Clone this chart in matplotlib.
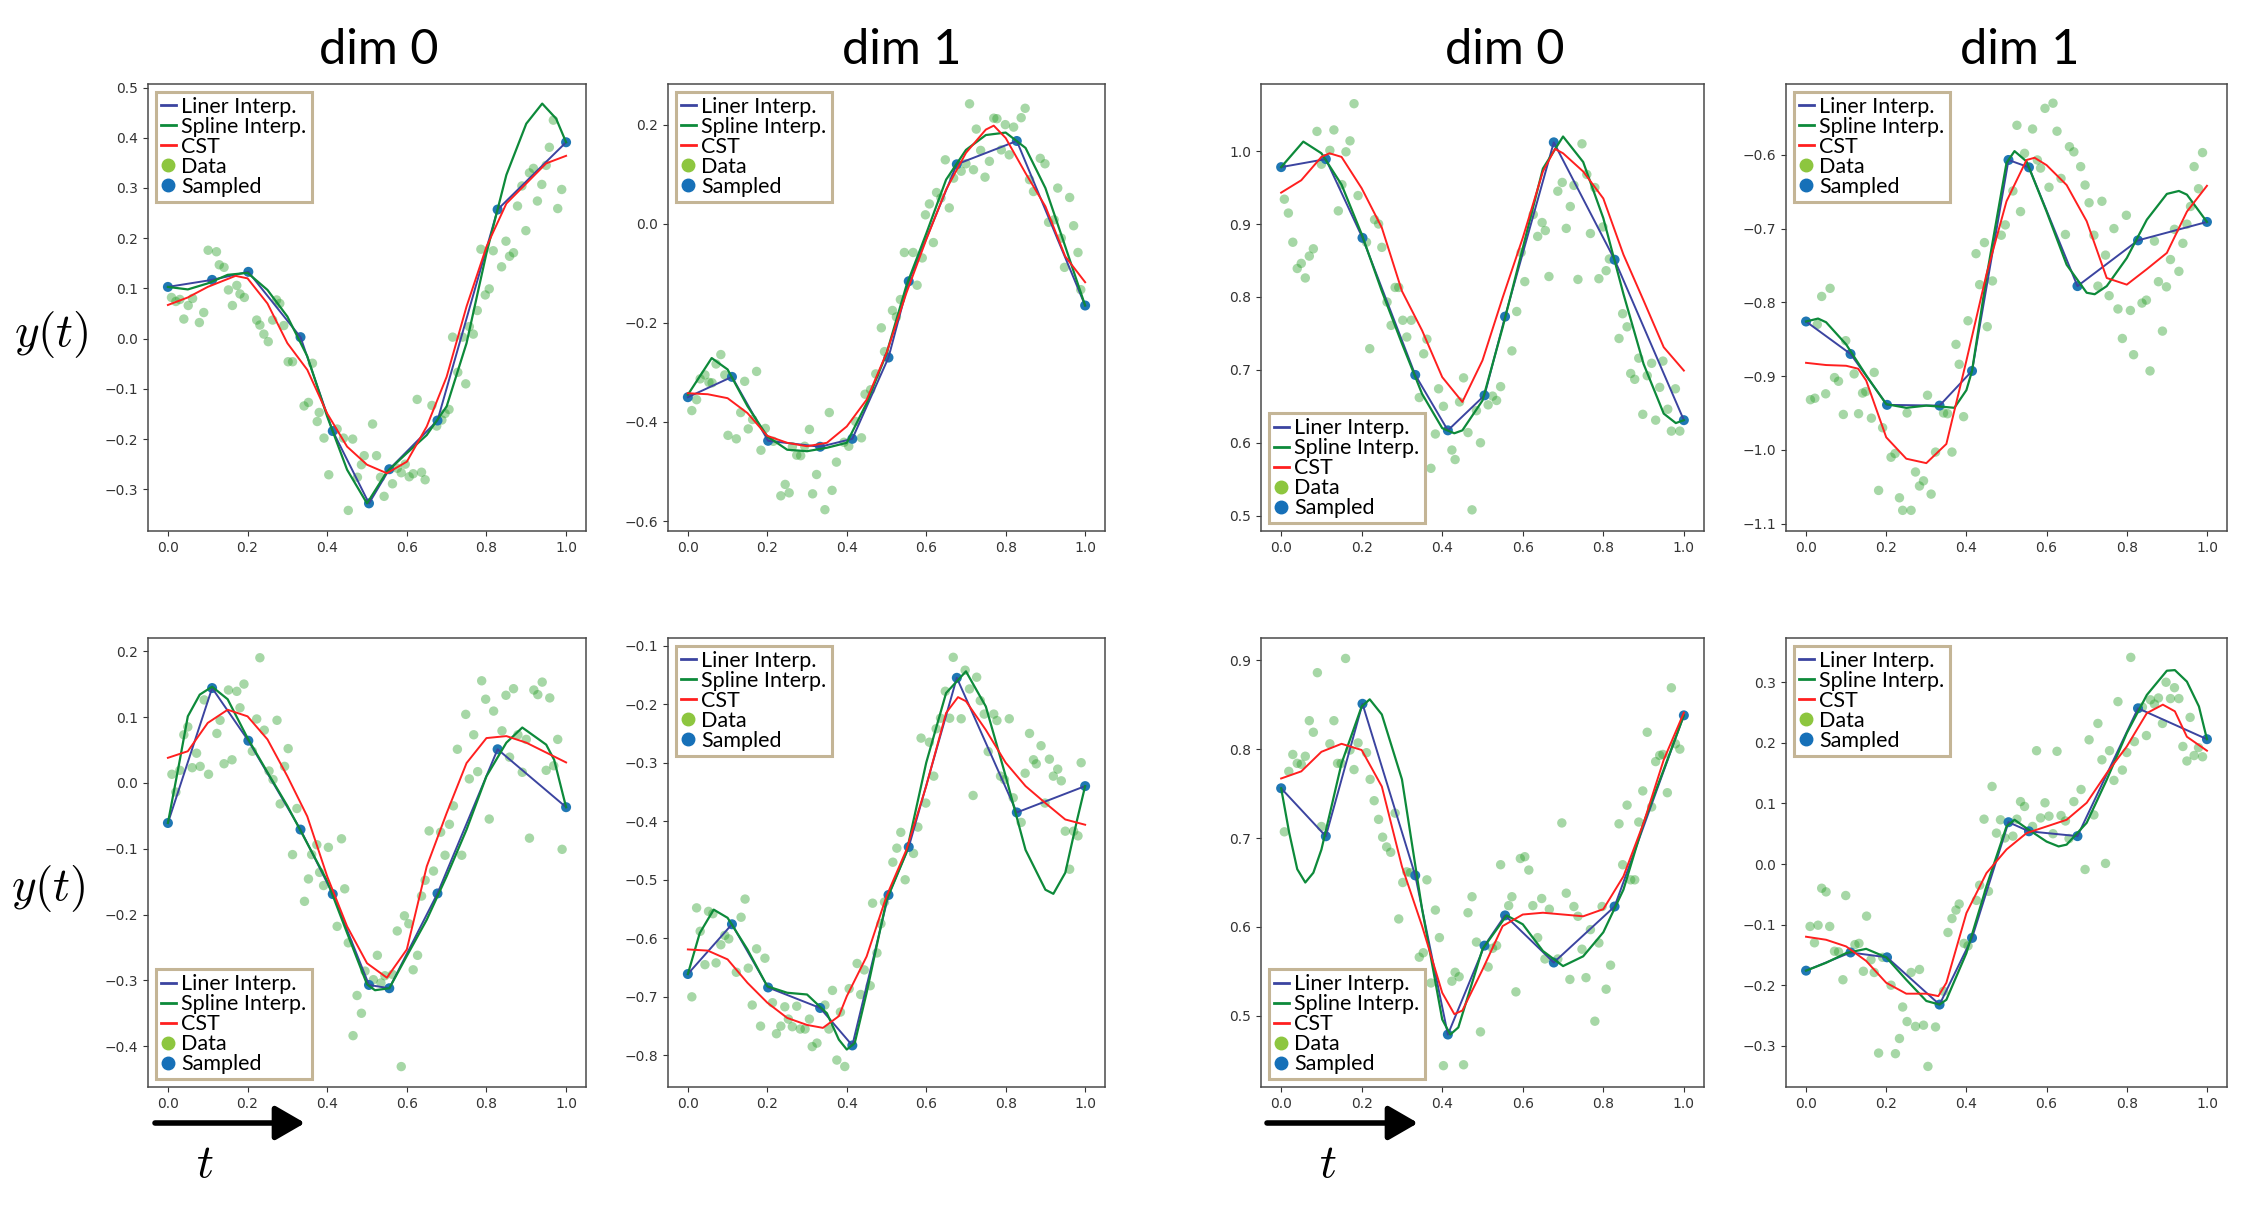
### Libraries ###
import matplotlib
matplotlib.use('Agg')
import matplotlib.pyplot as plt
from matplotlib.lines import Line2D
from matplotlib.ticker import MultipleLocator

plt.rcParams['mathtext.fontset'] = 'cm'

### Shared sample times ###
sample_t = [0.0, 0.111, 0.202, 0.333, 0.414, 0.505, 0.556, 0.677, 0.828, 1.0]

### Trajectory A, dim 0 ###
a0_samp = [0.103, 0.117, 0.133, 0.003, -0.184, -0.328, -0.260, -0.163, 0.257, 0.391]
a0_spl_t = [0, 0.05, 0.1, 0.15, 0.2, 0.25, 0.3, 0.35, 0.4, 0.45, 0.5, 0.55, 0.6, 0.65, 0.7,
            0.75, 0.8, 0.85, 0.9, 0.94, 0.975, 1.0]
a0_spl_y = [0.103, 0.098, 0.110, 0.127, 0.131, 0.097, 0.044, -0.035, -0.155, -0.261, -0.328,
            -0.265, -0.228, -0.192, -0.135, -0.009, 0.170, 0.326, 0.428, 0.468, 0.438, 0.391]
a0_cst_t = [0, 0.05, 0.1, 0.17, 0.2, 0.25, 0.3, 0.35, 0.4, 0.45, 0.5, 0.55, 0.6, 0.65, 0.7,
            0.75, 0.8, 0.85, 0.9, 0.95, 1.0]
a0_cst_y = [0.067, 0.082, 0.103, 0.125, 0.120, 0.070, -0.009, -0.062, -0.149, -0.215, -0.251,
            -0.268, -0.245, -0.175, -0.076, 0.064, 0.183, 0.269, 0.309, 0.349, 0.364]
a0_dat_t = [0.009, 0.020, 0.030, 0.040, 0.051, 0.062, 0.079, 0.090, 0.101, 0.122, 0.129, 0.141,
            0.152, 0.162, 0.173, 0.181, 0.192, 0.223, 0.231, 0.241, 0.252, 0.263, 0.273, 0.281,
            0.291, 0.302, 0.313, 0.342, 0.353, 0.363, 0.375, 0.380, 0.392, 0.404, 0.425, 0.441,
            0.453, 0.464, 0.476, 0.486, 0.493, 0.514, 0.524, 0.534, 0.543, 0.564, 0.576, 0.586,
            0.596, 0.606, 0.616, 0.626, 0.637, 0.646, 0.663, 0.675, 0.688, 0.696, 0.706, 0.715,
            0.728, 0.740, 0.748, 0.757, 0.767, 0.777, 0.786, 0.797, 0.807, 0.817, 0.838, 0.849,
            0.858, 0.868, 0.878, 0.889, 0.899, 0.908, 0.918, 0.928, 0.939, 0.950, 0.958, 0.968,
            0.979, 0.989]
a0_dat_y = [0.082, 0.074, 0.078, 0.039, 0.066, 0.080, 0.032, 0.052, 0.176, 0.173, 0.147, 0.142,
            0.097, 0.066, 0.106, 0.089, 0.082, 0.037, 0.027, 0.009, -0.006, 0.037, 0.077, 0.070,
            0.026, -0.046, -0.046, -0.134, -0.127, -0.049, -0.165, -0.147, -0.198, -0.271, -0.180,
            -0.198, -0.342, -0.200, -0.276, -0.251, -0.233, -0.170, -0.233, -0.276, -0.314, -0.289,
            -0.258, -0.267, -0.250, -0.275, -0.269, -0.121, -0.266, -0.281, -0.133, -0.174, -0.162,
            -0.149, -0.141, 0.003, -0.067, 0.003, -0.090, 0.024, 0.009, 0.056, 0.178, 0.087, 0.099,
            0.175, 0.143, 0.194, 0.164, 0.171, 0.264, 0.304, 0.215, 0.330, 0.339, 0.274, 0.307,
            0.345, 0.381, 0.435, 0.259, 0.297]

### Trajectory A, dim 1 ###
a1_samp = [-0.350, -0.309, -0.438, -0.450, -0.434, -0.270, -0.116, 0.120, 0.167, -0.165]
a1_spl_t = [0, 0.06, 0.1, 0.15, 0.2, 0.25, 0.3, 0.35, 0.4, 0.45, 0.5, 0.55, 0.6, 0.65, 0.7,
            0.75, 0.8, 0.85, 0.9, 0.95, 1.0]
a1_spl_y = [-0.345, -0.271, -0.294, -0.368, -0.429, -0.456, -0.459, -0.452, -0.442, -0.362,
            -0.262, -0.125, -0.020, 0.089, 0.149, 0.179, 0.184, 0.153, 0.072, -0.046, -0.165]
a1_cst_t = [0, 0.05, 0.1, 0.15, 0.2, 0.25, 0.3, 0.35, 0.4, 0.45, 0.5, 0.55, 0.6, 0.65, 0.7,
            0.75, 0.77, 0.8, 0.85, 0.9, 0.95, 1.0]
a1_cst_y = [-0.342, -0.344, -0.352, -0.382, -0.428, -0.442, -0.449, -0.442, -0.409, -0.355,
            -0.261, -0.140, -0.032, 0.069, 0.143, 0.190, 0.198, 0.173, 0.102, 0.035, -0.066, -0.118]
a1_dat_t = [0.010, 0.022, 0.031, 0.043, 0.053, 0.061, 0.071, 0.083, 0.093, 0.101, 0.122, 0.133,
            0.143, 0.152, 0.163, 0.173, 0.184, 0.195, 0.215, 0.234, 0.245, 0.255, 0.263, 0.274,
            0.284, 0.294, 0.306, 0.314, 0.324, 0.345, 0.356, 0.363, 0.374, 0.393, 0.405, 0.422,
            0.437, 0.446, 0.460, 0.473, 0.487, 0.495, 0.515, 0.525, 0.535, 0.545, 0.567, 0.577,
            0.590, 0.598, 0.608, 0.618, 0.626, 0.637, 0.648, 0.658, 0.669, 0.688, 0.700, 0.709,
            0.719, 0.726, 0.737, 0.748, 0.759, 0.770, 0.778, 0.789, 0.799, 0.809, 0.820, 0.839,
            0.849, 0.860, 0.870, 0.887, 0.899, 0.908, 0.922, 0.931, 0.940, 0.948, 0.961, 0.971,
            0.982, 0.989]
a1_dat_y = [-0.377, -0.355, -0.313, -0.305, -0.320, -0.321, -0.283, -0.264, -0.305, -0.427,
            -0.434, -0.381, -0.318, -0.414, -0.395, -0.298, -0.457, -0.413, -0.439, -0.549,
            -0.526, -0.543, -0.450, -0.467, -0.468, -0.449, -0.415, -0.545, -0.506, -0.577,
            -0.381, -0.538, -0.481, -0.441, -0.449, -0.399, -0.432, -0.344, -0.335, -0.303,
            -0.210, -0.258, -0.175, -0.188, -0.153, -0.058, -0.058, -0.124, -0.069, 0.018,
            0.040, -0.038, 0.063, 0.052, 0.129, 0.032, 0.092, 0.106, 0.121, 0.242, 0.109, 0.191,
            0.148, 0.094, 0.126, 0.213, 0.212, 0.149, 0.200, 0.139, 0.195, 0.214, 0.233, 0.089,
            0.065, 0.132, 0.121, 0.003, 0.008, 0.072, -0.029, -0.088, 0.053, -0.004, -0.058, -0.133]

### Trajectory B, dim 0 ###
b0_samp = [0.978, 0.989, 0.881, 0.693, 0.617, 0.665, 0.773, 1.012, 0.851, 0.631]
b0_spl_t = [0, 0.055, 0.1, 0.15, 0.2, 0.25, 0.3, 0.35, 0.4, 0.43, 0.45, 0.5, 0.55, 0.6, 0.65,
            0.7, 0.75, 0.8, 0.85, 0.9, 0.95, 0.98, 1.0]
b0_spl_y = [0.978, 1.013, 0.997, 0.954, 0.886, 0.808, 0.736, 0.667, 0.620, 0.613, 0.617, 0.658,
            0.758, 0.867, 0.976, 1.020, 0.985, 0.908, 0.804, 0.708, 0.640, 0.627, 0.631]
b0_cst_t = [0, 0.05, 0.1, 0.12, 0.15, 0.2, 0.25, 0.3, 0.35, 0.4, 0.45, 0.5, 0.55, 0.6, 0.65,
            0.68, 0.7, 0.75, 0.8, 0.85, 0.9, 0.95, 1.0]
b0_cst_y = [0.943, 0.960, 0.992, 0.997, 0.992, 0.949, 0.895, 0.808, 0.754, 0.690, 0.656, 0.713,
            0.799, 0.881, 0.972, 1.003, 0.997, 0.972, 0.935, 0.858, 0.795, 0.731, 0.699]
b0_dat_t = [0.008, 0.018, 0.029, 0.040, 0.050, 0.060, 0.070, 0.080, 0.089, 0.100, 0.121, 0.131,
            0.142, 0.151, 0.161, 0.171, 0.181, 0.191, 0.212, 0.220, 0.232, 0.242, 0.250, 0.263,
            0.273, 0.283, 0.292, 0.302, 0.312, 0.323, 0.343, 0.354, 0.362, 0.372, 0.383, 0.391,
            0.403, 0.424, 0.432, 0.443, 0.453, 0.464, 0.474, 0.485, 0.495, 0.514, 0.525, 0.535,
            0.545, 0.573, 0.585, 0.596, 0.605, 0.626, 0.637, 0.648, 0.656, 0.665, 0.687, 0.698,
            0.708, 0.718, 0.727, 0.737, 0.747, 0.759, 0.768, 0.779, 0.789, 0.799, 0.807, 0.815,
            0.839, 0.848, 0.859, 0.868, 0.878, 0.888, 0.898, 0.909, 0.920, 0.930, 0.940, 0.948,
            0.960, 0.969, 0.979, 0.990]
b0_dat_y = [0.934, 0.915, 0.875, 0.839, 0.846, 0.826, 0.856, 0.866, 1.027, 0.982, 1.001, 1.029,
            0.918, 0.954, 0.999, 1.014, 1.065, 0.939, 0.875, 0.729, 0.906, 0.900, 0.868, 0.793,
            0.761, 0.813, 0.813, 0.768, 0.745, 0.768, 0.662, 0.722, 0.742, 0.565, 0.612, 0.674,
            0.650, 0.590, 0.577, 0.656, 0.689, 0.614, 0.508, 0.644, 0.600, 0.652, 0.664, 0.658,
            0.677, 0.726, 0.780, 0.861, 0.821, 0.913, 0.883, 0.902, 0.891, 0.828, 0.945, 0.957,
            0.894, 0.924, 0.953, 0.824, 1.010, 0.968, 0.887, 0.950, 0.825, 0.896, 0.836, 0.852,
            0.743, 0.777, 0.759, 0.695, 0.687, 0.716, 0.639, 0.692, 0.709, 0.631, 0.676, 0.712,
            0.646, 0.616, 0.674, 0.616]

### Trajectory B, dim 1 ###
b1_samp = [-0.826, -0.870, -0.939, -0.940, -0.893, -0.607, -0.617, -0.778, -0.716, -0.691]
b1_spl_t = [0, 0.03, 0.05, 0.1, 0.15, 0.2, 0.25, 0.3, 0.35, 0.37, 0.4, 0.414, 0.45, 0.5, 0.52,
            0.55, 0.6, 0.65, 0.7, 0.72, 0.75, 0.8, 0.85, 0.9, 0.93, 0.95, 1.0]
b1_spl_y = [-0.826, -0.822, -0.827, -0.857, -0.899, -0.938, -0.943, -0.940, -0.942, -0.943,
            -0.919, -0.893, -0.766, -0.611, -0.595, -0.609, -0.677, -0.749, -0.787, -0.789,
            -0.778, -0.740, -0.688, -0.653, -0.649, -0.654, -0.691]
b1_cst_t = [0, 0.05, 0.1, 0.13, 0.15, 0.2, 0.25, 0.3, 0.35, 0.4, 0.45, 0.5, 0.55, 0.57, 0.6,
            0.65, 0.7, 0.75, 0.8, 0.85, 0.9, 0.95, 1.0]
b1_cst_y = [-0.882, -0.885, -0.886, -0.890, -0.906, -0.983, -1.012, -1.018, -0.992, -0.879,
            -0.762, -0.663, -0.607, -0.604, -0.614, -0.641, -0.690, -0.767, -0.776, -0.755,
            -0.733, -0.677, -0.642]
b1_dat_t = [0.011, 0.022, 0.028, 0.039, 0.049, 0.060, 0.071, 0.081, 0.093, 0.099, 0.120, 0.131,
            0.141, 0.149, 0.163, 0.170, 0.181, 0.191, 0.212, 0.222, 0.233, 0.241, 0.252, 0.262,
            0.273, 0.283, 0.293, 0.303, 0.312, 0.323, 0.343, 0.353, 0.364, 0.374, 0.382, 0.393,
            0.404, 0.424, 0.433, 0.445, 0.452, 0.465, 0.487, 0.497, 0.516, 0.526, 0.535, 0.545,
            0.565, 0.577, 0.585, 0.596, 0.606, 0.616, 0.626, 0.636, 0.647, 0.657, 0.668, 0.685,
            0.696, 0.706, 0.718, 0.728, 0.738, 0.747, 0.756, 0.768, 0.778, 0.789, 0.799, 0.809,
            0.817, 0.838, 0.849, 0.858, 0.869, 0.879, 0.889, 0.899, 0.909, 0.919, 0.930, 0.940,
            0.950, 0.959, 0.968, 0.979, 0.989]
b1_dat_y = [-0.932, -0.930, -0.830, -0.792, -0.924, -0.781, -0.902, -0.907, -0.952, -0.852,
            -0.897, -0.951, -0.923, -0.921, -0.957, -0.895, -1.055, -0.970, -1.010, -1.005,
            -1.065, -1.082, -0.950, -1.082, -1.030, -1.049, -1.042, -0.926, -1.060, -1.003,
            -0.950, -0.951, -1.003, -0.857, -0.884, -0.955, -0.825, -0.734, -0.776, -0.719,
            -0.833, -0.771, -0.709, -0.695, -0.649, -0.560, -0.677, -0.598, -0.565, -0.607,
            -0.618, -0.537, -0.644, -0.530, -0.568, -0.632, -0.708, -0.589, -0.596, -0.616,
            -0.641, -0.665, -0.709, -0.778, -0.663, -0.736, -0.791, -0.700, -0.809, -0.849,
            -0.682, -0.811, -0.871, -0.801, -0.797, -0.893, -0.717, -0.772, -0.839, -0.779,
            -0.742, -0.701, -0.758, -0.720, -0.694, -0.670, -0.616, -0.646, -0.597]

### Trajectory C, dim 0 ###
c0_samp = [-0.061, 0.144, 0.064, -0.071, -0.169, -0.307, -0.312, -0.168, 0.051, -0.037]
c0_spl_t = [0, 0.03, 0.05, 0.08, 0.111, 0.15, 0.2, 0.25, 0.3, 0.35, 0.4, 0.45, 0.5, 0.52,
            0.556, 0.6, 0.65, 0.7, 0.75, 0.8, 0.85, 0.89, 0.95, 0.97, 1.0]
c0_spl_y = [-0.061, 0.035, 0.101, 0.134, 0.146, 0.127, 0.068, 0.016, -0.035, -0.092, -0.149,
            -0.228, -0.306, -0.315, -0.312, -0.263, -0.208, -0.142, -0.071, 0.010, 0.061,
            0.084, 0.058, 0.035, -0.037]
c0_cst_t = [0, 0.05, 0.1, 0.15, 0.2, 0.25, 0.3, 0.35, 0.4, 0.45, 0.5, 0.55, 0.6, 0.65, 0.7,
            0.75, 0.8, 0.85, 0.9, 0.95, 1.0]
c0_cst_y = [0.038, 0.048, 0.091, 0.111, 0.101, 0.066, 0.010, -0.051, -0.142, -0.218, -0.274,
            -0.296, -0.253, -0.127, -0.046, 0.030, 0.068, 0.071, 0.061, 0.046, 0.031]
c0_dat_t = [0.010, 0.020, 0.030, 0.040, 0.050, 0.061, 0.072, 0.081, 0.091, 0.102, 0.123, 0.131,
            0.141, 0.152, 0.161, 0.173, 0.181, 0.191, 0.212, 0.223, 0.231, 0.242, 0.254, 0.264,
            0.274, 0.282, 0.293, 0.302, 0.313, 0.324, 0.343, 0.353, 0.361, 0.374, 0.381, 0.391,
            0.403, 0.425, 0.436, 0.444, 0.453, 0.465, 0.475, 0.486, 0.495, 0.516, 0.526, 0.535,
            0.545, 0.564, 0.576, 0.586, 0.594, 0.605, 0.616, 0.627, 0.637, 0.646, 0.656, 0.667,
            0.685, 0.696, 0.707, 0.717, 0.727, 0.738, 0.748, 0.757, 0.768, 0.778, 0.788, 0.798,
            0.807, 0.818, 0.839, 0.849, 0.858, 0.868, 0.879, 0.890, 0.900, 0.908, 0.919, 0.929,
            0.940, 0.950, 0.959, 0.969, 0.979, 0.990]
c0_dat_y = [0.013, -0.014, 0.019, 0.073, 0.085, 0.023, 0.045, 0.025, 0.126, 0.013, 0.075, 0.095,
            0.029, 0.141, 0.035, 0.139, 0.114, 0.150, 0.048, 0.097, 0.190, 0.080, 0.018, 0.005,
            0.095, -0.032, 0.025, 0.052, -0.109, -0.039, -0.180, -0.146, -0.109, -0.094, -0.136,
            -0.156, -0.098, -0.218, -0.085, -0.161, -0.243, -0.384, -0.323, -0.350, -0.286,
            -0.299, -0.262, -0.304, -0.293, -0.291, -0.225, -0.431, -0.202, -0.214, -0.284,
            -0.262, -0.172, -0.148, -0.073, -0.134, -0.075, -0.110, -0.063, -0.035, 0.051,
            -0.110, 0.104, 0.006, 0.073, 0.017, 0.155, 0.127, -0.055, 0.109, 0.079, 0.133, 0.039,
            0.143, 0.073, 0.016, 0.066, -0.084, 0.141, 0.134, 0.153, 0.019, 0.129, 0.026, 0.066,
            -0.101]

### Trajectory C, dim 1 ###
c1_samp = [-0.661, -0.576, -0.684, -0.719, -0.783, -0.526, -0.444, -0.155, -0.385, -0.340]
c1_spl_t = [0, 0.03, 0.065, 0.1, 0.15, 0.2, 0.25, 0.3, 0.35, 0.38, 0.4, 0.42, 0.45, 0.5, 0.55,
            0.6, 0.65, 0.7, 0.75, 0.8, 0.85, 0.9, 0.92, 0.95, 0.98, 1.0]
c1_spl_y = [-0.661, -0.591, -0.551, -0.565, -0.619, -0.682, -0.693, -0.696, -0.728, -0.773,
            -0.790, -0.779, -0.693, -0.535, -0.454, -0.300, -0.181, -0.144, -0.204, -0.323,
            -0.449, -0.517, -0.524, -0.488, -0.397, -0.340]
c1_cst_t = [0, 0.05, 0.1, 0.15, 0.2, 0.25, 0.3, 0.34, 0.38, 0.4, 0.45, 0.5, 0.55, 0.6, 0.65,
            0.68, 0.7, 0.75, 0.8, 0.85, 0.9, 0.95, 1.0]
c1_cst_y = [-0.619, -0.621, -0.636, -0.676, -0.710, -0.736, -0.748, -0.753, -0.733, -0.699,
            -0.631, -0.528, -0.449, -0.340, -0.215, -0.188, -0.195, -0.244, -0.300, -0.340,
            -0.369, -0.397, -0.406]
c1_dat_t = [0.010, 0.022, 0.031, 0.043, 0.052, 0.063, 0.071, 0.083, 0.093, 0.103, 0.122, 0.134,
            0.144, 0.152, 0.162, 0.173, 0.183, 0.194, 0.213, 0.223, 0.234, 0.244, 0.253, 0.263,
            0.274, 0.283, 0.295, 0.306, 0.313, 0.325, 0.345, 0.355, 0.364, 0.375, 0.384, 0.395,
            0.406, 0.426, 0.435, 0.444, 0.459, 0.465, 0.476, 0.486, 0.495, 0.516, 0.526, 0.536,
            0.547, 0.568, 0.579, 0.587, 0.599, 0.608, 0.619, 0.625, 0.636, 0.648, 0.659, 0.668,
            0.688, 0.698, 0.709, 0.718, 0.727, 0.736, 0.746, 0.756, 0.770, 0.778, 0.787, 0.797,
            0.809, 0.819, 0.839, 0.849, 0.860, 0.870, 0.877, 0.889, 0.899, 0.910, 0.920, 0.931,
            0.940, 0.950, 0.961, 0.971, 0.982, 0.990]
c1_dat_y = [-0.700, -0.548, -0.588, -0.645, -0.554, -0.558, -0.642, -0.611, -0.595, -0.601,
            -0.658, -0.564, -0.533, -0.651, -0.714, -0.618, -0.750, -0.634, -0.710, -0.763,
            -0.750, -0.717, -0.738, -0.751, -0.716, -0.755, -0.755, -0.738, -0.785, -0.779,
            -0.714, -0.755, -0.689, -0.808, -0.726, -0.819, -0.686, -0.643, -0.696, -0.654,
            -0.681, -0.540, -0.625, -0.575, -0.538, -0.470, -0.446, -0.419, -0.500, -0.455,
            -0.410, -0.258, -0.369, -0.265, -0.323, -0.242, -0.224, -0.178, -0.224, -0.120,
            -0.225, -0.142, -0.174, -0.356, -0.154, -0.194, -0.217, -0.281, -0.217, -0.228,
            -0.323, -0.329, -0.225, -0.360, -0.402, -0.318, -0.250, -0.295, -0.302, -0.271,
            -0.369, -0.294, -0.323, -0.311, -0.331, -0.417, -0.482, -0.417, -0.425, -0.300]

### Trajectory D, dim 0 ###
d0_samp = [0.756, 0.702, 0.851, 0.658, 0.479, 0.579, 0.613, 0.560, 0.623, 0.838]
d0_spl_t = [0, 0.02, 0.04, 0.06, 0.08, 0.1, 0.15, 0.2, 0.22, 0.25, 0.3, 0.35, 0.4, 0.42, 0.44,
            0.5, 0.56, 0.6, 0.65, 0.7, 0.75, 0.8, 0.85, 0.9, 0.95, 1.0]
d0_spl_y = [0.756, 0.706, 0.665, 0.650, 0.661, 0.687, 0.784, 0.848, 0.856, 0.839, 0.766, 0.620,
            0.496, 0.479, 0.487, 0.575, 0.613, 0.603, 0.573, 0.556, 0.567, 0.594, 0.642, 0.717,
            0.777, 0.838]
d0_cst_t = [0, 0.05, 0.1, 0.15, 0.2, 0.25, 0.3, 0.35, 0.4, 0.43, 0.45, 0.5, 0.55, 0.6, 0.65,
            0.7, 0.75, 0.8, 0.85, 0.9, 0.95, 1.0]
d0_cst_y = [0.767, 0.775, 0.797, 0.806, 0.799, 0.758, 0.668, 0.601, 0.526, 0.502, 0.506, 0.552,
            0.601, 0.614, 0.616, 0.614, 0.612, 0.620, 0.657, 0.717, 0.788, 0.841]
d0_dat_t = [0.008, 0.019, 0.029, 0.040, 0.050, 0.060, 0.070, 0.080, 0.090, 0.100, 0.121, 0.131,
            0.140, 0.149, 0.160, 0.171, 0.181, 0.191, 0.212, 0.221, 0.231, 0.242, 0.252, 0.262,
            0.272, 0.283, 0.292, 0.302, 0.312, 0.321, 0.343, 0.353, 0.362, 0.372, 0.383, 0.393,
            0.403, 0.424, 0.432, 0.442, 0.453, 0.464, 0.474, 0.485, 0.495, 0.514, 0.525, 0.535,
            0.545, 0.565, 0.573, 0.583, 0.594, 0.605, 0.615, 0.625, 0.637, 0.647, 0.655, 0.666,
            0.687, 0.697, 0.708, 0.717, 0.727, 0.737, 0.747, 0.757, 0.768, 0.779, 0.789, 0.797,
            0.807, 0.818, 0.839, 0.848, 0.859, 0.868, 0.878, 0.888, 0.898, 0.909, 0.920, 0.930,
            0.940, 0.948, 0.959, 0.969, 0.979, 0.990]
d0_dat_y = [0.707, 0.775, 0.794, 0.784, 0.783, 0.792, 0.832, 0.819, 0.886, 0.713, 0.806, 0.832,
            0.784, 0.784, 0.902, 0.799, 0.777, 0.807, 0.796, 0.766, 0.742, 0.721, 0.701, 0.690,
            0.684, 0.728, 0.609, 0.650, 0.662, 0.661, 0.566, 0.571, 0.653, 0.537, 0.619, 0.588,
            0.444, 0.539, 0.549, 0.544, 0.445, 0.616, 0.634, 0.583, 0.482, 0.555, 0.576, 0.579,
            0.670, 0.624, 0.634, 0.527, 0.677, 0.679, 0.664, 0.624, 0.588, 0.632, 0.564, 0.620,
            0.564, 0.717, 0.638, 0.541, 0.623, 0.612, 0.575, 0.543, 0.597, 0.494, 0.582, 0.623,
            0.530, 0.557, 0.716, 0.670, 0.737, 0.653, 0.653, 0.718, 0.753, 0.819, 0.735, 0.786,
            0.793, 0.794, 0.751, 0.869, 0.806, 0.800]

### Trajectory D, dim 1 ###
d1_samp = [-0.176, -0.146, -0.154, -0.232, -0.122, 0.069, 0.054, 0.046, 0.257, 0.206]
d1_spl_t = [0, 0.05, 0.1, 0.15, 0.2, 0.25, 0.3, 0.333, 0.35, 0.4, 0.45, 0.5, 0.52, 0.55, 0.6,
            0.63, 0.65, 0.7, 0.75, 0.8, 0.85, 0.9, 0.92, 0.95, 0.98, 1.0]
d1_spl_y = [-0.176, -0.163, -0.147, -0.140, -0.154, -0.191, -0.226, -0.232, -0.224, -0.147,
            -0.037, 0.062, 0.073, 0.059, 0.037, 0.029, 0.032, 0.068, 0.139, 0.216, 0.279, 0.319,
            0.320, 0.301, 0.260, 0.206]
d1_cst_t = [0, 0.05, 0.1, 0.15, 0.2, 0.25, 0.3, 0.33, 0.35, 0.4, 0.45, 0.5, 0.55, 0.6, 0.65,
            0.7, 0.75, 0.8, 0.85, 0.89, 0.92, 0.95, 1.0]
d1_cst_y = [-0.120, -0.125, -0.136, -0.160, -0.196, -0.214, -0.214, -0.218, -0.196, -0.081,
            -0.015, 0.024, 0.051, 0.062, 0.073, 0.101, 0.150, 0.194, 0.249, 0.263, 0.252, 0.210,
            0.187]
d1_dat_t = [0.010, 0.021, 0.030, 0.039, 0.050, 0.059, 0.071, 0.081, 0.092, 0.099, 0.122, 0.132,
            0.143, 0.151, 0.162, 0.170, 0.181, 0.191, 0.212, 0.223, 0.233, 0.241, 0.252, 0.262,
            0.273, 0.283, 0.293, 0.304, 0.323, 0.343, 0.354, 0.364, 0.374, 0.382, 0.394, 0.404,
            0.425, 0.433, 0.444, 0.455, 0.464, 0.475, 0.485, 0.496, 0.516, 0.526, 0.535, 0.545,
            0.565, 0.575, 0.585, 0.596, 0.606, 0.616, 0.626, 0.636, 0.647, 0.656, 0.668, 0.686,
            0.696, 0.706, 0.718, 0.728, 0.738, 0.747, 0.757, 0.768, 0.778, 0.789, 0.800, 0.810,
            0.819, 0.839, 0.849, 0.859, 0.869, 0.879, 0.889, 0.898, 0.909, 0.919, 0.930, 0.940,
            0.950, 0.958, 0.968, 0.979, 0.989]
d1_dat_y = [-0.103, -0.130, -0.101, -0.040, -0.046, -0.103, -0.144, -0.145, -0.191, -0.052,
            -0.133, -0.131, -0.177, -0.086, -0.158, -0.179, -0.312, -0.154, -0.200, -0.313,
            -0.288, -0.236, -0.260, -0.179, -0.268, -0.174, -0.266, -0.334, -0.269, -0.210,
            -0.113, -0.090, -0.076, -0.066, -0.131, -0.135, -0.060, -0.035, 0.074, -0.045, 0.128,
            0.051, 0.073, 0.043, 0.046, 0.074, 0.103, 0.095, 0.062, 0.187, 0.076, 0.101, 0.079,
            0.050, 0.186, 0.080, 0.071, 0.042, 0.103, 0.123, -0.009, 0.205, 0.081, 0.232, 0.172,
            0.001, 0.187, 0.138, 0.268, 0.155, 0.184, 0.341, 0.202, 0.259, 0.212, 0.271, 0.264,
            0.274, 0.232, 0.300, 0.273, 0.291, 0.273, 0.194, 0.170, 0.242, 0.179, 0.192, 0.177]

### Panel layout (pixel boxes) ###
titles = ['dim 0', 'dim 1', 'dim 0', 'dim 1']
title_x = [379, 902, 1505, 2020]
col_left = [148, 668, 1261, 1786]
col_width = [438, 437, 443, 441]
row_top = [84, 638]
row_bottom = [531, 1087]

panels = [
    (0, 0, a0_samp, a0_spl_t, a0_spl_y, a0_cst_t, a0_cst_y, a0_dat_t, a0_dat_y, (-0.383, 0.507), 0.1, 'upper left'),
    (0, 1, a1_samp, a1_spl_t, a1_spl_y, a1_cst_t, a1_cst_y, a1_dat_t, a1_dat_y, (-0.620, 0.282), 0.2, 'upper left'),
    (0, 2, b0_samp, b0_spl_t, b0_spl_y, b0_cst_t, b0_cst_y, b0_dat_t, b0_dat_y, (0.479, 1.092), 0.1, 'lower left'),
    (0, 3, b1_samp, b1_spl_t, b1_spl_y, b1_cst_t, b1_cst_y, b1_dat_t, b1_dat_y, (-1.110, -0.504), 0.1, 'upper left'),
    (1, 0, c0_samp, c0_spl_t, c0_spl_y, c0_cst_t, c0_cst_y, c0_dat_t, c0_dat_y, (-0.462, 0.220), 0.1, 'lower left'),
    (1, 1, c1_samp, c1_spl_t, c1_spl_y, c1_cst_t, c1_cst_y, c1_dat_t, c1_dat_y, (-0.854, -0.087), 0.1, 'upper left'),
    (1, 2, d0_samp, d0_spl_t, d0_spl_y, d0_cst_t, d0_cst_y, d0_dat_t, d0_dat_y, (0.420, 0.925), 0.1, 'lower left'),
    (1, 3, d1_samp, d1_spl_t, d1_spl_y, d1_cst_t, d1_cst_y, d1_dat_t, d1_dat_y, (-0.368, 0.373), 0.1, 'upper left'),
]

LIN_C = '#3b44a0'
SPL_C = '#0d8a3a'
CST_C = '#ff1f1f'
DAT_C = '#2ca02c'
SMP_C = '#1f77b4'

W, H = 2266, 1207
fig = plt.figure(figsize=(W / 100, H / 100), dpi=100)

legend_handles = [
    Line2D([], [], color=LIN_C, lw=2),
    Line2D([], [], color=SPL_C, lw=2),
    Line2D([], [], color=CST_C, lw=2),
    Line2D([], [], marker='o', ls='', color='#8dc63f', ms=9),
    Line2D([], [], marker='o', ls='', color='#1670b8', ms=9),
]
legend_labels = ['Liner Interp.', 'Spline Interp.', 'CST', 'Data', 'Sampled']

for (r, c, samp, spl_t, spl_y, cst_t, cst_y, dat_t, dat_y, ylim, ystep, loc) in panels:
    left = col_left[c] / W
    bottom = 1 - row_bottom[r] / H
    ax = fig.add_axes([left, bottom, col_width[c] / W, (row_bottom[r] - row_top[r]) / H])
    ax.scatter(dat_t, dat_y, s=46, color=DAT_C, alpha=0.42, edgecolors='none', zorder=1)
    ax.scatter(sample_t, samp, s=52, color=SMP_C, edgecolors='none', zorder=2)
    ax.plot(sample_t, samp, color=LIN_C, lw=1.4, zorder=3)
    ax.plot(spl_t, spl_y, color=SPL_C, lw=1.6, zorder=4)
    ax.plot(cst_t, cst_y, color=CST_C, lw=1.4, zorder=5)
    ax.set_xlim(-0.05, 1.05)
    ax.set_ylim(*ylim)
    ax.xaxis.set_major_locator(MultipleLocator(0.2))
    ax.yaxis.set_major_locator(MultipleLocator(ystep))
    ax.tick_params(labelsize=10, colors='#333333')
    for sp in ax.spines.values():
        sp.set_color('#4a4a4a')
        sp.set_linewidth(1.1)
    leg = ax.legend(legend_handles, legend_labels, loc=loc,
                    prop={'family': 'Lato', 'size': 15.5}, frameon=True, fancybox=False,
                    edgecolor='#c4b596', framealpha=1, handlelength=0.7,
                    handletextpad=0.25, labelspacing=0.0, borderpad=0.25,
                    borderaxespad=0.35)
    leg.get_frame().set_linewidth(2.2)

### Column titles ###
for t, x in zip(titles, title_x):
    fig.text(x / W, 1 - 50 / H, t, ha='center', va='center', fontsize=35, family='Lato')

### Axis labels and time arrows ###
fig.text(51 / W, 1 - 335 / H, r'$y(t)$', ha='center', va='center', fontsize=34)
fig.text(48 / W, 1 - 889 / H, r'$y(t)$', ha='center', va='center', fontsize=34)
for x0, x1, tx in [(155, 305, 205), (1267, 1418, 1328)]:
    fig.add_artist(plt.Annotation('', xy=(x1, H - 1123), xytext=(x0, H - 1123),
                                  xycoords='figure pixels', textcoords='figure pixels',
                                  arrowprops=dict(arrowstyle='-|>,head_length=0.45,head_width=0.26',
                                                  lw=4, color='black', mutation_scale=40,
                                                  shrinkA=0, shrinkB=0)))
    fig.text(tx / W, 1 - 1165 / H, r'$t$', ha='center', va='center', fontsize=34)

fig.savefig('out.png', dpi=100)
